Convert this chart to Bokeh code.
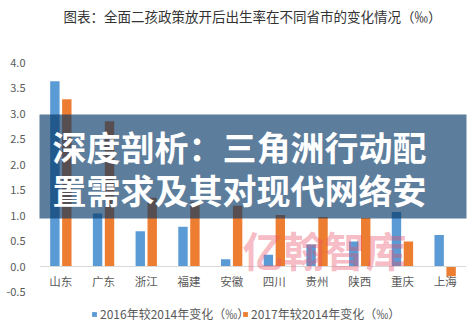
from bokeh.plotting import figure
from bokeh.models import (Range1d, FactorRange, Span, Label, Legend, LegendItem,
                          BoxAnnotation, FixedTicker, NumeralTickFormatter, ColumnDataSource)
from bokeh.core.properties import value
from bokeh.transform import dodge
from bokeh.embed import file_html
from bokeh.resources import INLINE

# ---- data ----
categories = ["山东", "广东", "浙江", "福建", "安徽", "四川", "贵州", "陕西", "重庆", "上海"]
change_2016 = [3.63, 1.04, 0.69, 0.78, 0.14, 0.23, 0.43, 0.49, 1.07, 0.62]
change_2017 = [3.28, 2.85, 1.35, 1.27, 1.19, 1.01, 0.97, 0.95, 0.49, -0.19]
y_ticks = [-0.5, 0.0, 0.5, 1.0, 1.5, 2.0, 2.5, 3.0, 3.5, 4.0]
series_names = ["2016年较2014年变化（‰）", "2017年较2014年变化（‰）"]
chart_title = "图表：全面二孩政策放开后出生率在不同省市的变化情况（‰）"
banner_lines = ["深度剖析：三角洲行动配", "置需求及其对现代网络安"]
watermark = "亿翰智库"

FONT = "Noto Sans CJK SC"
BLUE = "#5b9bd5"
ORANGE = "#ed7d31"
GREY = "#595959"

W, H = 474, 333
ZERO_PX, FOUR_PX = 266, 62           # canvas rows of y=0 and y=4
PX_PER_UNIT = (ZERO_PX - FOUR_PX) / 4.0

src = ColumnDataSource(dict(cat=categories, a=change_2016, b=change_2017))

p = figure(x_range=FactorRange(*categories),
           y_range=Range1d(-(H - ZERO_PX) / PX_PER_UNIT, ZERO_PX / PX_PER_UNIT),
           width=W, height=H, output_backend="svg", toolbar_location=None,
           min_border_left=39, min_border_right=8, min_border_top=0, min_border_bottom=0)
p.outline_line_color = None
p.xgrid.grid_line_color = None
p.ygrid.grid_line_color = None
p.x_range.range_padding = 0
p.xaxis.visible = False

r1 = p.vbar(x=dodge("cat", -0.14, range=p.x_range), top="a", width=0.22, source=src,
            fill_color=BLUE, line_color=None)
r2 = p.vbar(x=dodge("cat", 0.14, range=p.x_range), top="b", width=0.22, source=src,
            fill_color=ORANGE, line_color=None)

p.add_layout(Span(location=0, dimension="width", line_color="#d9d9d9", line_width=1))

# category labels just under the zero line
p.text(x="cat", y=0, text="cat", source=src, y_offset=14, text_align="center",
       text_baseline="middle", text_font=value(FONT), text_font_size="11.5px",
       text_color=GREY)

# y axis
p.yaxis.ticker = FixedTicker(ticks=y_ticks)
p.yaxis.formatter = NumeralTickFormatter(format="0.0")
p.yaxis.axis_line_color = None
p.yaxis.major_tick_line_color = None
p.yaxis.minor_tick_line_color = None
p.yaxis.major_label_standoff = 8
p.yaxis.major_label_text_font = FONT
p.yaxis.major_label_text_font_size = "11px"
p.yaxis.major_label_text_color = GREY

for xloc, name, rr in [(52, series_names[0], r1), (203, series_names[1], r2)]:
    lg = Legend(items=[LegendItem(label=name, renderers=[rr])],
                location=(xloc, 11), orientation="horizontal",
                border_line_color=None, background_fill_alpha=0,
                padding=0, margin=0, spacing=0, glyph_width=6, glyph_height=6,
                label_standoff=3, label_height=12,
                label_text_font=FONT, label_text_font_size="12px", label_text_color=GREY)
    p.add_layout(lg)

p.add_layout(Label(x=252, y=15, x_units="canvas", y_units="canvas", text=chart_title,
                   text_align="center", text_baseline="middle", text_font=FONT,
                   text_font_size="13.5px", text_color="#333333"))

# watermark
p.add_layout(Label(x=242, y=248, x_units="canvas", y_units="canvas", text=watermark,
                   text_align="left", text_baseline="middle", text_font=FONT,
                   text_font_size="41px", text_font_style="bold", text_color="#e85069",
                   text_alpha=0.4))

# banner overlay
p.add_layout(BoxAnnotation(left=0, right=W, top=114, bottom=218,
                           left_units="canvas", right_units="canvas",
                           top_units="canvas", bottom_units="canvas",
                           fill_color="#003464", fill_alpha=0.64, line_color=None))
for yy, line in zip([146, 189], banner_lines):
    p.add_layout(Label(x=52, y=yy, x_units="canvas", y_units="canvas", text=line,
                       text_align="left", text_baseline="middle", text_font=FONT,
                       text_font_size="34px", text_font_style="bold", text_color="white"))

open("out.html", "w").write(file_html(p, INLINE))
